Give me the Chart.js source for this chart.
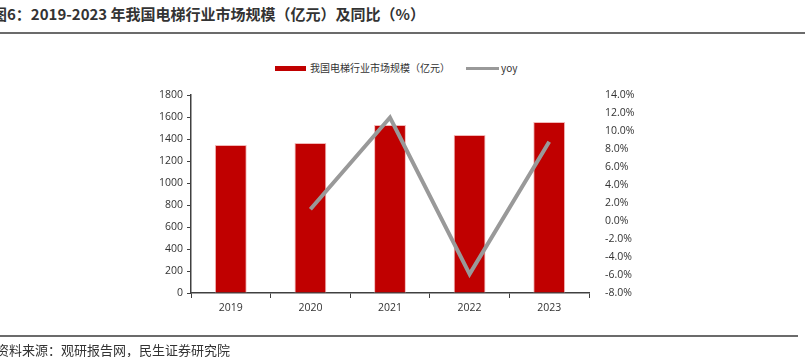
<!DOCTYPE html>
<html>
<head>
<meta charset="utf-8">
<script src="https://cdn.jsdelivr.net/npm/chart.js@4/dist/chart.umd.min.js"></script>
<style>
  html, body { margin: 0; padding: 0; background: #fff; overflow: hidden; }
  #wrap { position: relative; width: 809px; height: 357px; }
  #c { position: absolute; left: 0; top: 0; }
  .title { position: absolute; left: -8px; top: 4px; font-family: "Noto Sans CJK SC", sans-serif; font-weight: bold; font-size: 15px; color: #333; white-space: nowrap; line-height: 20px; }
  .src { position: absolute; left: -4px; top: 341px; font-family: "Noto Sans CJK SC", sans-serif; font-size: 13px; color: #333; white-space: nowrap; line-height: 18px; }
  .hline { position: absolute; left: 0; height: 2px; background: #6b6b6b; }
  .legend { position: absolute; top: 58px; left: 275px; font-family: "Noto Sans CJK SC", sans-serif; font-size: 10px; color: #333; white-space: nowrap; line-height: 18px; }
  .legend span { display: inline-block; vertical-align: middle; }
</style>
</head>
<body>
<div id="wrap">
  <div class="title">图6：2019-2023 年我国电梯行业市场规模（亿元）及同比（%）</div>
  <div class="hline" style="top:32px;width:805px;"></div>
  <div class="legend">
    <span style="width:31px;height:5px;background:#C00000;"></span><span style="margin-left:4px;">我国电梯行业市场规模（亿元）</span><span style="width:33px;height:3px;background:#999;margin-left:16px;"></span><span style="margin-left:2px;">yoy</span>
  </div>
  <canvas id="c" width="809" height="357"></canvas>
  <div class="hline" style="top:335px;width:798px;"></div>
  <div class="src">资料来源：观研报告网，民生证券研究院</div>
</div>
<script>
const categories = ['2019', '2020', '2021', '2022', '2023'];
const marketSize = [1345, 1364, 1527, 1436, 1555];
const yoy = [null, 1.3, 11.5, -5.9, 8.8];
const leftTicks = [0, 200, 400, 600, 800, 1000, 1200, 1400, 1600, 1800];
const rightTicks = [-8, -6, -4, -2, 0, 2, 4, 6, 8, 10, 12, 14];

const tickFont = { family: '"Open Sans", "Noto Sans", sans-serif', size: 10.5 };

new Chart(document.getElementById('c'), {
  type: 'bar',
  data: {
    labels: categories,
    datasets: [
      {
        type: 'line',
        label: 'yoy',
        data: yoy,
        yAxisID: 'y1',
        borderColor: '#999999',
        borderWidth: 4,
        pointRadius: 0,
        fill: false,
        tension: 0,
        order: 0
      },
      {
        type: 'bar',
        label: '我国电梯行业市场规模（亿元）',
        data: marketSize,
        yAxisID: 'y',
        backgroundColor: '#C00000',
        borderColor: '#f2b8b8',
        borderWidth: { top: 1, left: 1, right: 1, bottom: 0 },
        categoryPercentage: 1,
        barPercentage: 0.4,
        order: 1
      }
    ]
  },
  options: {
    responsive: false,
    animation: false,
    devicePixelRatio: 1,
    layout: { padding: { top: 95, left: 0, right: 0, bottom: 0 } },
    plugins: { legend: { display: false }, tooltip: { enabled: false } },
    scales: {
      x: {
        offset: true,
        grid: { display: true, drawOnChartArea: false, offset: true, color: '#404040', tickLength: 5, lineWidth: 1 },
        border: { display: true, color: '#404040', width: 1.5 },
        ticks: { color: '#333', font: tickFont, padding: 4 },
        afterFit: s => { s.height = 64; }
      },
      y: {
        position: 'left',
        min: 0, max: 1800,
        afterBuildTicks: s => { s.ticks = leftTicks.map(v => ({ value: v })); },
        grid: { display: true, drawOnChartArea: false, color: '#404040', tickLength: 4 },
        border: { display: true, color: '#404040', width: 1.5 },
        ticks: { color: '#333', font: tickFont, padding: 4, callback: v => String(v) },
        afterFit: s => { s.width = 191; }
      },
      y1: {
        position: 'right',
        min: -8, max: 14,
        afterBuildTicks: s => { s.ticks = rightTicks.map(v => ({ value: v })); },
        grid: { display: false },
        border: { display: false },
        ticks: { color: '#333', font: tickFont, padding: 8, callback: v => v.toFixed(1) + '%' },
        afterFit: s => { s.width = 220; }
      }
    }
  }
});
</script>
</body>
</html>
